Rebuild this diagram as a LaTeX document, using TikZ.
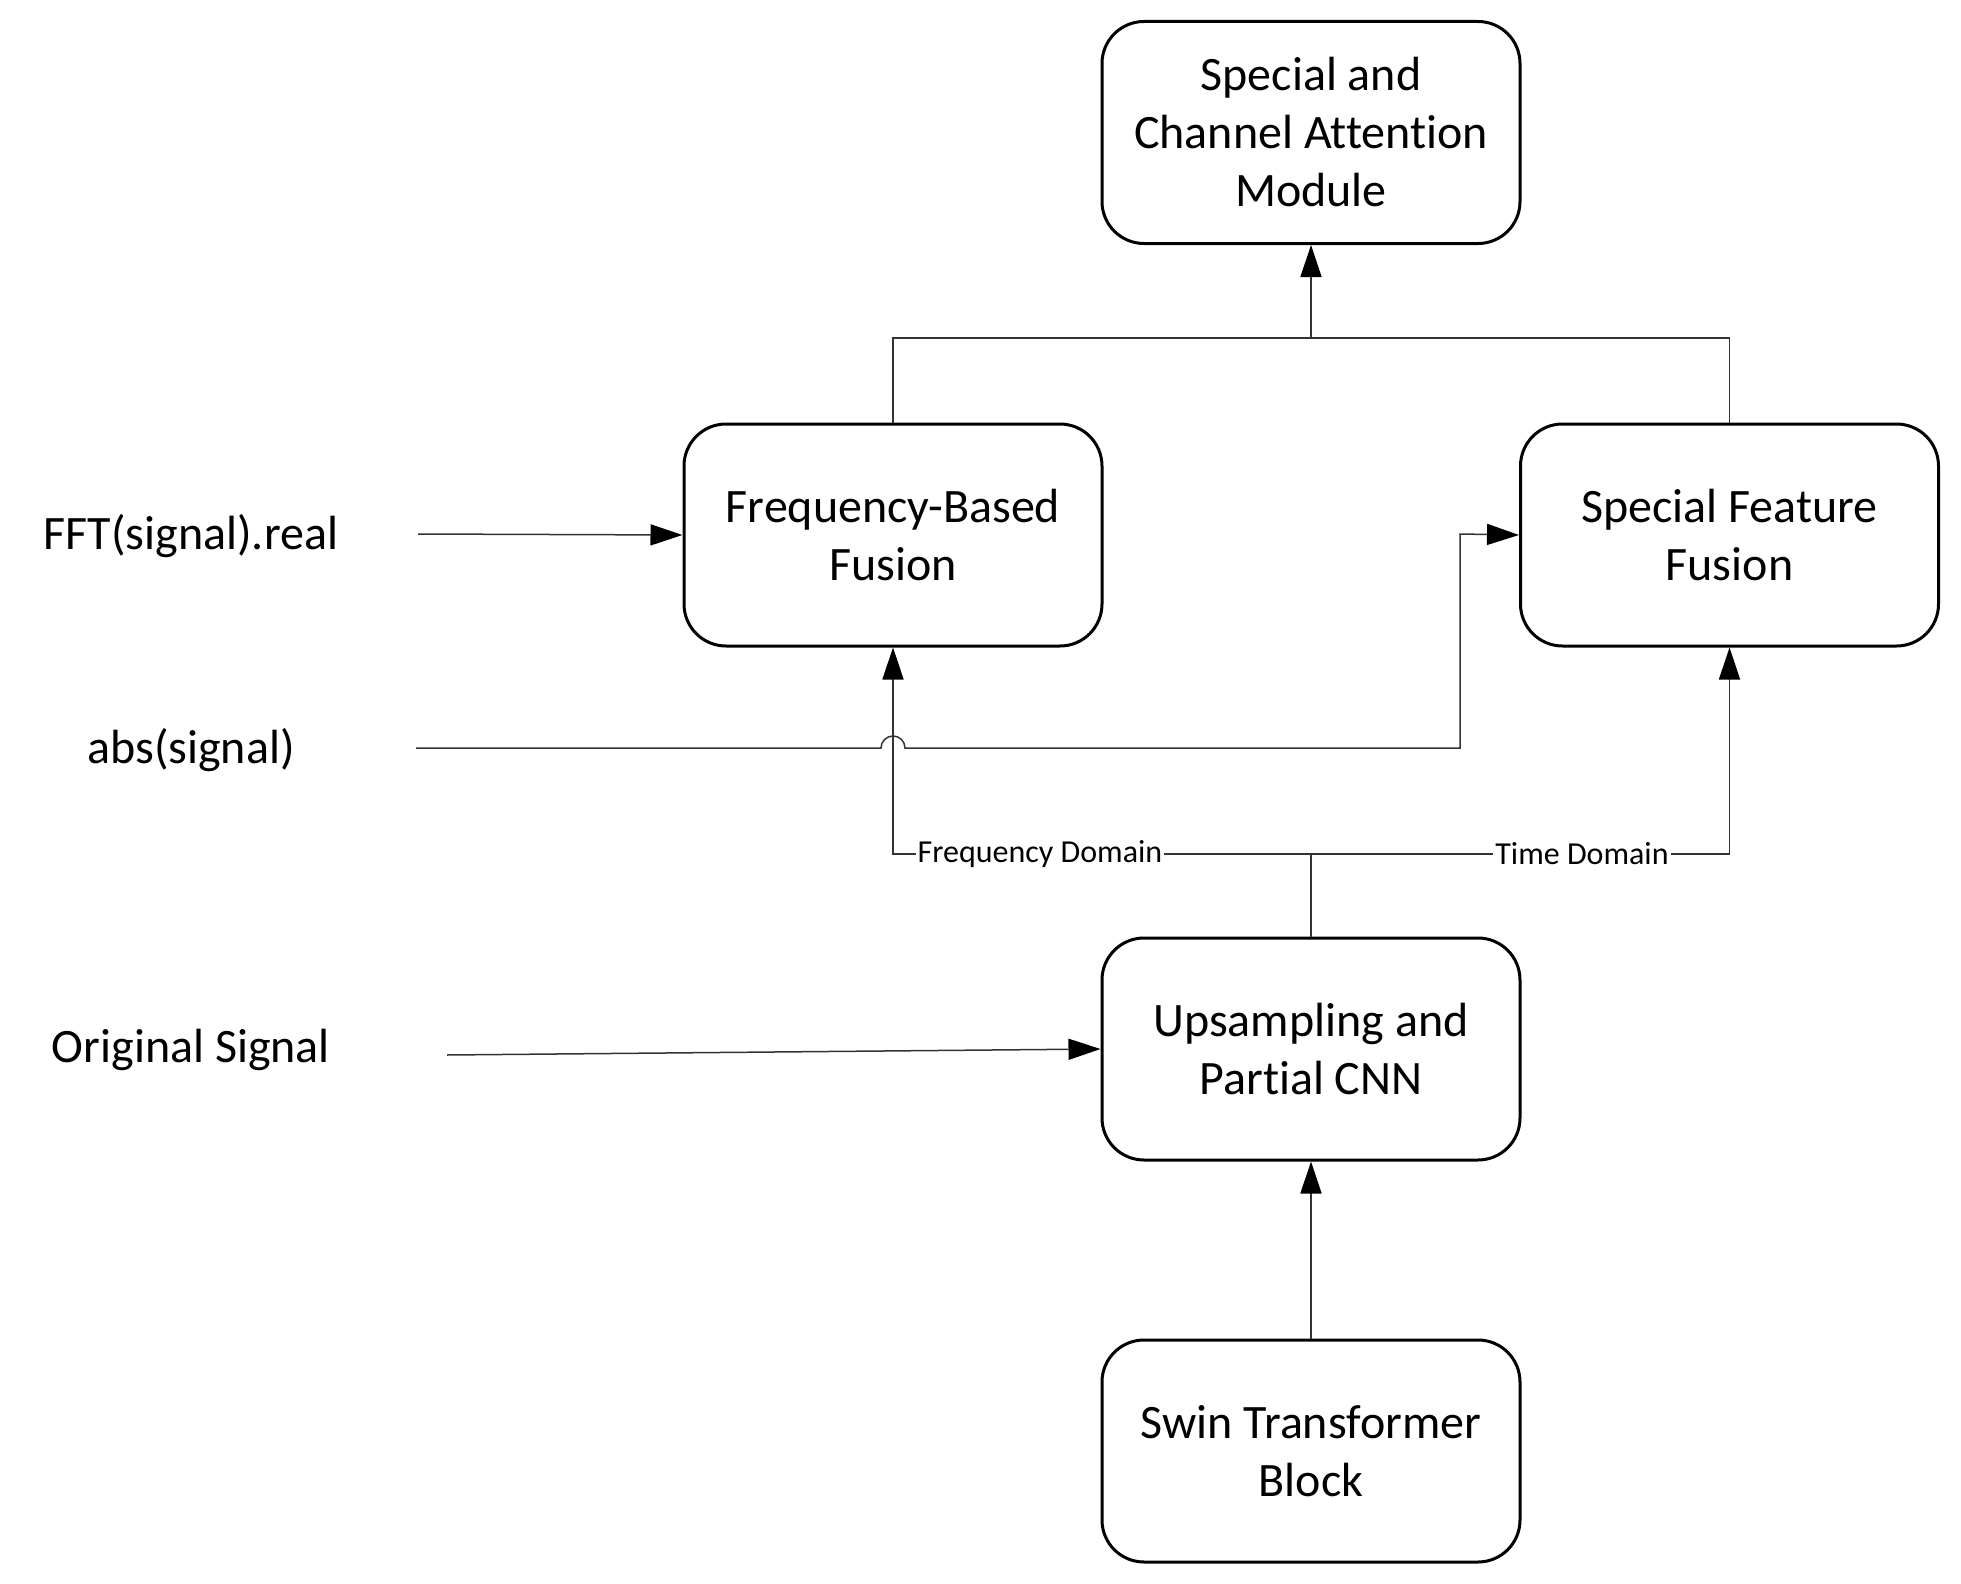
\documentclass[tikz,border=0pt]{standalone}
\usepackage{fontspec}
\setmainfont{Carlito}[Ligatures={NoCommon}]
\usetikzlibrary{arrows.meta}
\begin{document}
\begin{tikzpicture}[x=0.5pt,y=-0.5pt,
  blk/.style={draw=black,line width=1.5pt,rounded corners=21pt,minimum width=209pt,minimum height=111pt,align=center,font=\fontsize{24}{29}\selectfont,inner sep=0pt},
  lbl/.style={font=\fontsize{24}{29}\selectfont,inner sep=0pt},
  dom/.style={font=\fontsize{16}{19}\selectfont,fill=white,inner sep=1pt},
  conn/.style={draw=black!80,line width=0.75pt},
  arr/.style={conn,-{Triangle[length=16pt,width=10.5pt,color=black]}}]
\useasboundingbox (0,0) rectangle (1961,1584);
\node[blk] (SCAM) at (1311,132.5) {Special and\\Channel Attention\\Module};
\node[blk] (FBF) at (893,535) {Frequency-Based\\Fusion};
\node[blk] (SFF) at (1729.5,535) {Special Feature\\Fusion};
\node[blk] (UP) at (1311,1049) {Upsampling and\\Partial CNN};
\node[blk] (SWIN) at (1311,1451) {Swin Transformer\\Block};
\node[lbl] (fft) at (191,536) {FFT(signal).real};
\node[lbl] (abs) at (191,750) {abs(signal)};
\node[lbl] (orig) at (191,1050) {Original Signal};
\coordinate (fftS) at (418,534);
\coordinate (absS) at (416,748);
\coordinate (origS) at (447,1055);
\coordinate (top) at (1311,338);
\coordinate (junc) at (1311,854);
% top merge
\draw[conn] (FBF.north) -- (FBF.north |- top) -- (SFF.north |- top) -- (SFF.north);
\draw[arr] (top) -- (SCAM.south);
% inputs
\draw[arr] (fftS) -- (FBF.west);
\draw[arr] (origS) -- (UP.west);
% domain split
\draw[conn] (UP.north) -- (junc);
\draw[arr] (junc) -- (FBF.south |- junc) -- (FBF.south);
\draw[arr] (junc) -- (SFF.south |- junc) -- (SFF.south);
\node[dom] (fdl) at (1040,854) {Frequency Domain};
\node[dom] (tdl) at (1582,854) {Time Domain};
% abs line with jump
\draw[arr] (absS) -- (881,748) arc[start angle=180,end angle=0,radius=6pt] -- (1460,748) -- (1460,534) -- (SFF.west);
\draw[arr] (SWIN.north) -- (UP.south);
\end{tikzpicture}
\end{document}
